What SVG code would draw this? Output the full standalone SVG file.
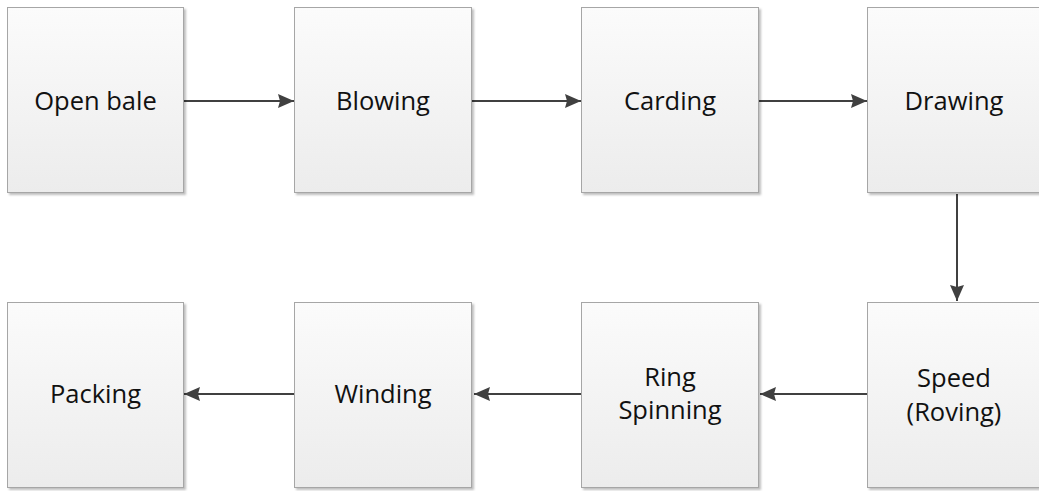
<svg xmlns="http://www.w3.org/2000/svg" width="1039" height="491" viewBox="0 0 1039 491">
<defs>
<linearGradient id="g" x1="0" y1="0" x2="0" y2="1">
<stop offset="0" stop-color="#fbfbfb"/>
<stop offset="1" stop-color="#ececec"/>
</linearGradient>
<filter id="sh" x="-10%" y="-10%" width="120%" height="120%">
<feDropShadow dx="2" dy="2" stdDeviation="1.2" flood-color="#000" flood-opacity="0.25"/>
</filter>
<marker id="ah" viewBox="0 0 16 14" refX="16" refY="7" markerWidth="16" markerHeight="14" markerUnits="userSpaceOnUse" orient="auto">
<path d="M0,0 L16,7 L0,14 L2,7 Z" fill="#404040"/>
</marker>
<style>
.box{fill:url(#g);stroke:#a6a6a6;stroke-width:1;filter:url(#sh)}
.t{font-family:"Open Sans","Noto Sans",sans-serif;font-size:25.5px;fill:#111;text-anchor:middle}
.c{stroke:#404040;stroke-width:2;fill:none;marker-end:url(#ah)}
</style>
</defs>
<rect width="1039" height="491" fill="#fff"/>
<g id="connectors">
<line class="c" x1="184" y1="101" x2="294" y2="101"/>
<line class="c" x1="471" y1="101" x2="581" y2="101"/>
<line class="c" x1="758" y1="101" x2="867" y2="101"/>
<line class="c" x1="957" y1="194" x2="957" y2="301"/>
<line class="c" x1="867" y1="394" x2="760" y2="394"/>
<line class="c" x1="581" y1="394" x2="474" y2="394"/>
<line class="c" x1="294" y1="394" x2="184" y2="394"/>
</g>
<g id="n1"><rect class="box" x="7.5" y="7.5" width="176" height="185"/><text class="t" x="95.5" y="110">Open bale</text></g>
<g id="n2"><rect class="box" x="294.5" y="7.5" width="177" height="185"/><text class="t" x="383" y="110">Blowing</text></g>
<g id="n3"><rect class="box" x="581.5" y="7.5" width="177" height="185"/><text class="t" x="670" y="110">Carding</text></g>
<g id="n4"><rect class="box" x="867.5" y="7.5" width="180" height="185"/><text class="t" x="954" y="110">Drawing</text></g>
<g id="n5"><rect class="box" x="867.5" y="302.5" width="180" height="185"/><text class="t" x="954" y="387">Speed</text><text class="t" x="954" y="421">(Roving)</text></g>
<g id="n6"><rect class="box" x="581.5" y="302.5" width="177" height="185"/><text class="t" x="670" y="386">Ring</text><text class="t" x="670" y="419">Spinning</text></g>
<g id="n7"><rect class="box" x="294.5" y="302.5" width="177" height="185"/><text class="t" x="383" y="403">Winding</text></g>
<g id="n8"><rect class="box" x="7.5" y="302.5" width="176" height="185"/><text class="t" x="95.5" y="403">Packing</text></g>
</svg>
